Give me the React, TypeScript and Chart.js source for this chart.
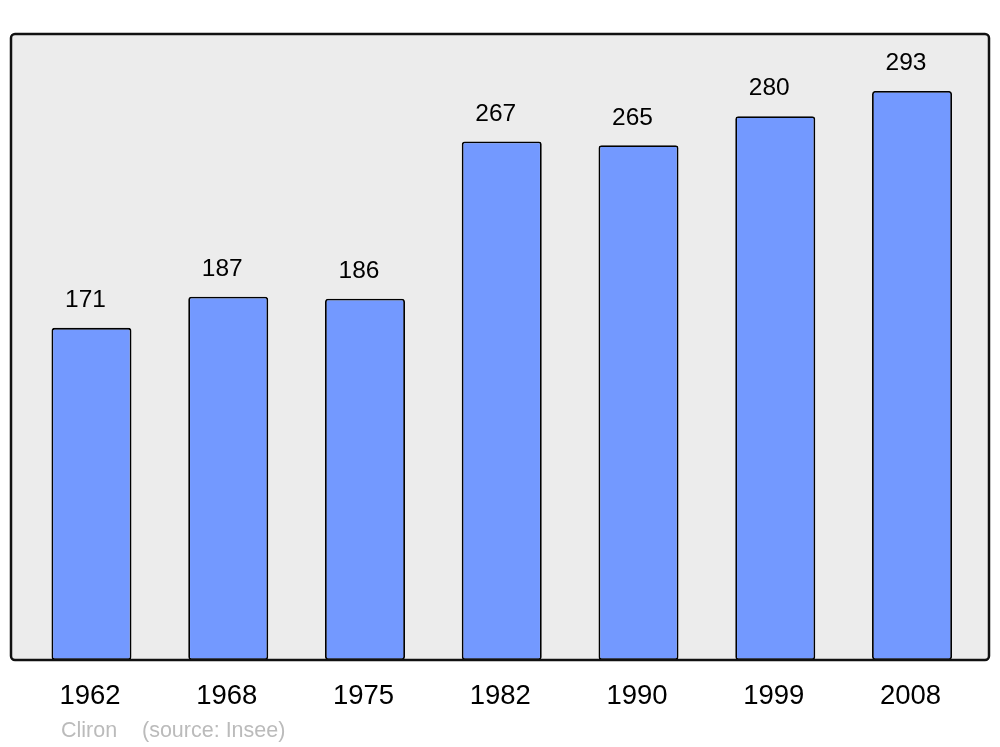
import React, { useEffect, useRef } from "react";
import { Chart, registerables } from "chart.js";

Chart.register(...registerables);

const years = ["1962", "1968", "1975", "1982", "1990", "1999", "2008"];
const population = [171, 187, 186, 267, 265, 280, 293];
const footerAuthor = "Cliron";
const footerSource = "(source: Insee)";

const FONT = '"Liberation Sans", Arial, sans-serif';

const framePlugin = {
  id: "frame",
  beforeDatasetsDraw(chart: any) {
    const ctx = chart.ctx;
    ctx.save();
    ctx.beginPath();
    (ctx as any).roundRect(11, 34, 978, 626, 4);
    ctx.fillStyle = "#ececec";
    ctx.fill();
    ctx.restore();
  },
  afterDatasetsDraw(chart: any) {
    const ctx = chart.ctx;
    ctx.save();
    ctx.beginPath();
    (ctx as any).roundRect(11, 34, 978, 626, 4);
    ctx.lineWidth = 2.5;
    ctx.strokeStyle = "#111111";
    ctx.stroke();

    const meta = chart.getDatasetMeta(0);
    const xScale = chart.scales.x;
    ctx.fillStyle = "#000000";
    ctx.textAlign = "center";
    ctx.textBaseline = "middle";
    ctx.font = `24.5px ${FONT}`;
    meta.data.forEach((bar: any, i: number) => {
      ctx.fillText(String(population[i]), bar.x - 6, bar.y - 27.5);
    });
    ctx.font = `27.5px ${FONT}`;
    years.forEach((y, i) => {
      ctx.fillText(y, xScale.getPixelForValue(i) - 1.5, 696);
    });
    ctx.font = `21.5px ${FONT}`;
    ctx.fillStyle = "#bbbbbb";
    ctx.textAlign = "left";
    ctx.fillText(footerAuthor, 61, 731);
    ctx.fillText(footerSource, 142, 731);
    ctx.restore();
  },
};

export default function App() {
  const ref = useRef<HTMLCanvasElement>(null);
  useEffect(() => {
    document.body.style.margin = "0";
    const chart = new Chart(ref.current as HTMLCanvasElement, {
      type: "bar",
      data: {
        labels: years,
        datasets: [
          {
            data: population,
            backgroundColor: "#7399ff",
            borderColor: "#000000",
            borderWidth: 1.8,
            borderRadius: 3,
            borderSkipped: false,
            barPercentage: 0.585,
            categoryPercentage: 1,
          },
        ],
      },
      options: {
        animation: false,
        responsive: false,
        layout: { padding: { left: 23.1, right: 19.6, top: 34, bottom: 87 } },
        plugins: { legend: { display: false }, tooltip: { enabled: false } },
        scales: {
          x: { display: false, offset: true, grid: { display: false } },
          y: { display: false, min: 0, max: 322.3 },
        },
      },
      plugins: [framePlugin],
    });
    return () => chart.destroy();
  }, []);
  return (
    <div style={{ width: 1000, height: 747 }}>
      <canvas ref={ref} width={1000} height={747} />
    </div>
  );
}
